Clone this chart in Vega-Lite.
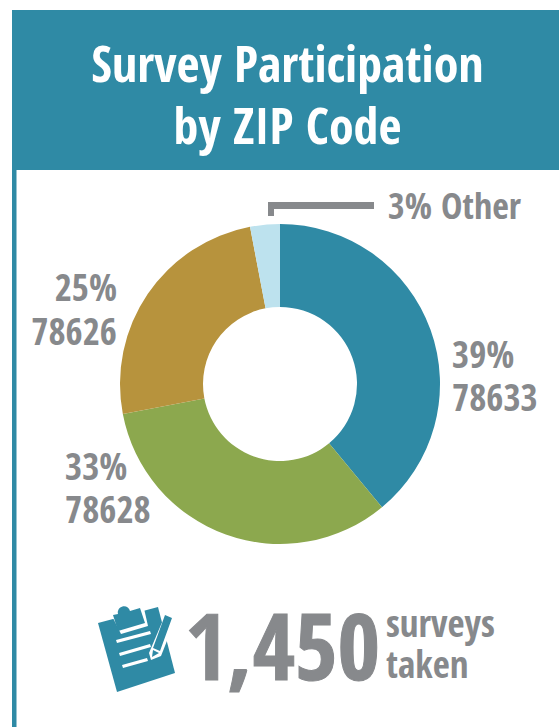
{
"$schema":"https://vega.github.io/schema/vega-lite/v6.json",
"width":559,"height":727,"padding":0,"autosize":{"type":"none"},
"background":"white",
"view":{"stroke":null},
"title":{"text":["Survey Participation","by ZIP Code"],"anchor":"middle","frame":"group","orient":"top","font":"Open Sans Condensed","fontWeight":"bold","fontSize":50,"lineHeight":62,"color":"white","baseline":"top","offset":0,"dy":154,"dx":8},
"datasets":{
"shares":[
{"zip":"78633","share":39,"rank":1,"line1":"39%","line2":"78633"},
{"zip":"78628","share":33,"rank":2,"line1":"33%","line2":"78628"},
{"zip":"78626","share":25,"rank":3,"line1":"25%","line2":"78626"},
{"zip":"Other","share":3,"rank":4,"line1":"3% Other","line2":""}],
"one":[{"total":"1,450"}]
},
"layer":[
{"data":{"name":"one"},"mark":{"type":"rect","color":"#2f8aa5"},"encoding":{"x":{"value":12},"x2":{"value":559},"y":{"value":10},"y2":{"value":170}}},
{"data":{"name":"one"},"mark":{"type":"rect","color":"#2f8aa5"},"encoding":{"x":{"value":12},"x2":{"value":16.5},"y":{"value":170},"y2":{"value":727}}},
{"data":{"name":"one"},"mark":{"type":"rect","color":"#87898c"},"encoding":{"x":{"value":268},"x2":{"value":374},"y":{"value":202},"y2":{"value":209}}},
{"data":{"name":"one"},"mark":{"type":"rect","color":"#87898c"},"encoding":{"x":{"value":268},"x2":{"value":274},"y":{"value":202},"y2":{"value":216}}},
{"data":{"name":"shares"},"mark":{"type":"arc","innerRadius":77,"outerRadius":160},
 "encoding":{"x":{"value":280},"y":{"value":384},
 "theta":{"field":"share","type":"quantitative","stack":true,"scale":{"domain":[0,100]}},
 "order":{"field":"rank","type":"quantitative"},
 "color":{"field":"zip","type":"nominal","legend":null,"sort":null,"scale":{"domain":["78633","78628","78626","Other"],"range":["#2f8aa5","#8ca84e","#b7933d","#bde2ee"]}}}},
{"data":{"name":"shares"},"transform":[{"filter":"datum.zip==='78633'"}],"mark":{"type":"text","font":"Open Sans Condensed","fontWeight":"bold","fontSize":37,"color":"#87898c","align":"left","baseline":"alphabetic","x":452,"y":368},"encoding":{"text":{"field":"line1"}}},
{"data":{"name":"shares"},"transform":[{"filter":"datum.zip==='78633'"}],"mark":{"type":"text","font":"Open Sans Condensed","fontWeight":"bold","fontSize":37,"color":"#87898c","align":"left","baseline":"alphabetic","x":452,"y":411},"encoding":{"text":{"field":"line2"}}},
{"data":{"name":"shares"},"transform":[{"filter":"datum.zip==='78628'"}],"mark":{"type":"text","font":"Open Sans Condensed","fontWeight":"bold","fontSize":37,"color":"#87898c","align":"left","baseline":"alphabetic","x":65,"y":480},"encoding":{"text":{"field":"line1"}}},
{"data":{"name":"shares"},"transform":[{"filter":"datum.zip==='78628'"}],"mark":{"type":"text","font":"Open Sans Condensed","fontWeight":"bold","fontSize":37,"color":"#87898c","align":"left","baseline":"alphabetic","x":65,"y":523},"encoding":{"text":{"field":"line2"}}},
{"data":{"name":"shares"},"transform":[{"filter":"datum.zip==='78626'"}],"mark":{"type":"text","font":"Open Sans Condensed","fontWeight":"bold","fontSize":37,"color":"#87898c","align":"right","baseline":"alphabetic","x":117,"y":301},"encoding":{"text":{"field":"line1"}}},
{"data":{"name":"shares"},"transform":[{"filter":"datum.zip==='78626'"}],"mark":{"type":"text","font":"Open Sans Condensed","fontWeight":"bold","fontSize":37,"color":"#87898c","align":"right","baseline":"alphabetic","x":117,"y":345},"encoding":{"text":{"field":"line2"}}},
{"data":{"name":"shares"},"transform":[{"filter":"datum.zip==='Other'"}],"mark":{"type":"text","font":"Open Sans Condensed","fontWeight":"bold","fontSize":36,"color":"#87898c","align":"left","baseline":"alphabetic","x":388,"y":219},"encoding":{"text":{"field":"line1"}}},
{"data":{"name":"one"},"mark":{"type":"text","font":"Open Sans Condensed","fontWeight":"bold","fontSize":92,"color":"#87898c","stroke":"#87898c","strokeWidth":1,"align":"left","baseline":"alphabetic","x":185,"y":680},"encoding":{"text":{"field":"total"}}},
{"data":{"values":[{"word":"surveys"}]},"mark":{"type":"text","font":"Open Sans Condensed","fontWeight":"bold","fontSize":37,"color":"#87898c","align":"left","baseline":"alphabetic","x":386,"y":637},"encoding":{"text":{"field":"word"}}},
{"data":{"values":[{"word":"taken"}]},"mark":{"type":"text","font":"Open Sans Condensed","fontWeight":"bold","fontSize":37,"color":"#87898c","align":"left","baseline":"alphabetic","x":386,"y":678},"encoding":{"text":{"field":"word"}}},
{"data":{"name":"one"},"mark":{"type":"point","filled":true,"size":4,"opacity":1,"color":"#2f8aa5","x":137,"y":650,"shape":"M-39,-27L21,-43L38,23L-20,42Z"},"encoding":{}},
{"data":{"name":"one"},"mark":{"type":"point","filled":true,"size":4,"opacity":1,"color":"#ffffff","x":137,"y":650,"shape":"M-27,-38L6,-46L11,-24L-16,-16Z"},"encoding":{}},
{"data":{"name":"one"},"mark":{"type":"point","filled":true,"size":4,"opacity":1,"color":"#2f8aa5","x":137,"y":650,"shape":"M-24,-35L-19,-36A6,6 0 1 1 -7,-39L3,-42L8,-27L-19,-19Z"},"encoding":{}},
{"data":{"name":"one"},"mark":{"type":"point","filled":true,"size":4,"opacity":1,"color":"#ffffff","x":137,"y":650,"shape":"M-21,-10L13,-19L14,-16L-20,-7ZM-18,3L13,-6L14,-3L-17,6ZM-15,15L10,8L11,11L-14,18Z"},"encoding":{}},
{"data":{"name":"one"},"mark":{"type":"point","filled":true,"size":4,"opacity":1,"color":"#ffffff","x":137,"y":650,"shape":"M26,-30L37,-27L24,6L14,10L12,3Z"},"encoding":{}},
{"data":{"name":"one"},"mark":{"type":"point","filled":true,"size":4,"opacity":1,"color":"#2f8aa5","x":137,"y":650,"shape":"M28,-35L35,-32L23,1L16,-2ZM16,0L22,3L15,7Z"},"encoding":{}}
]
}
